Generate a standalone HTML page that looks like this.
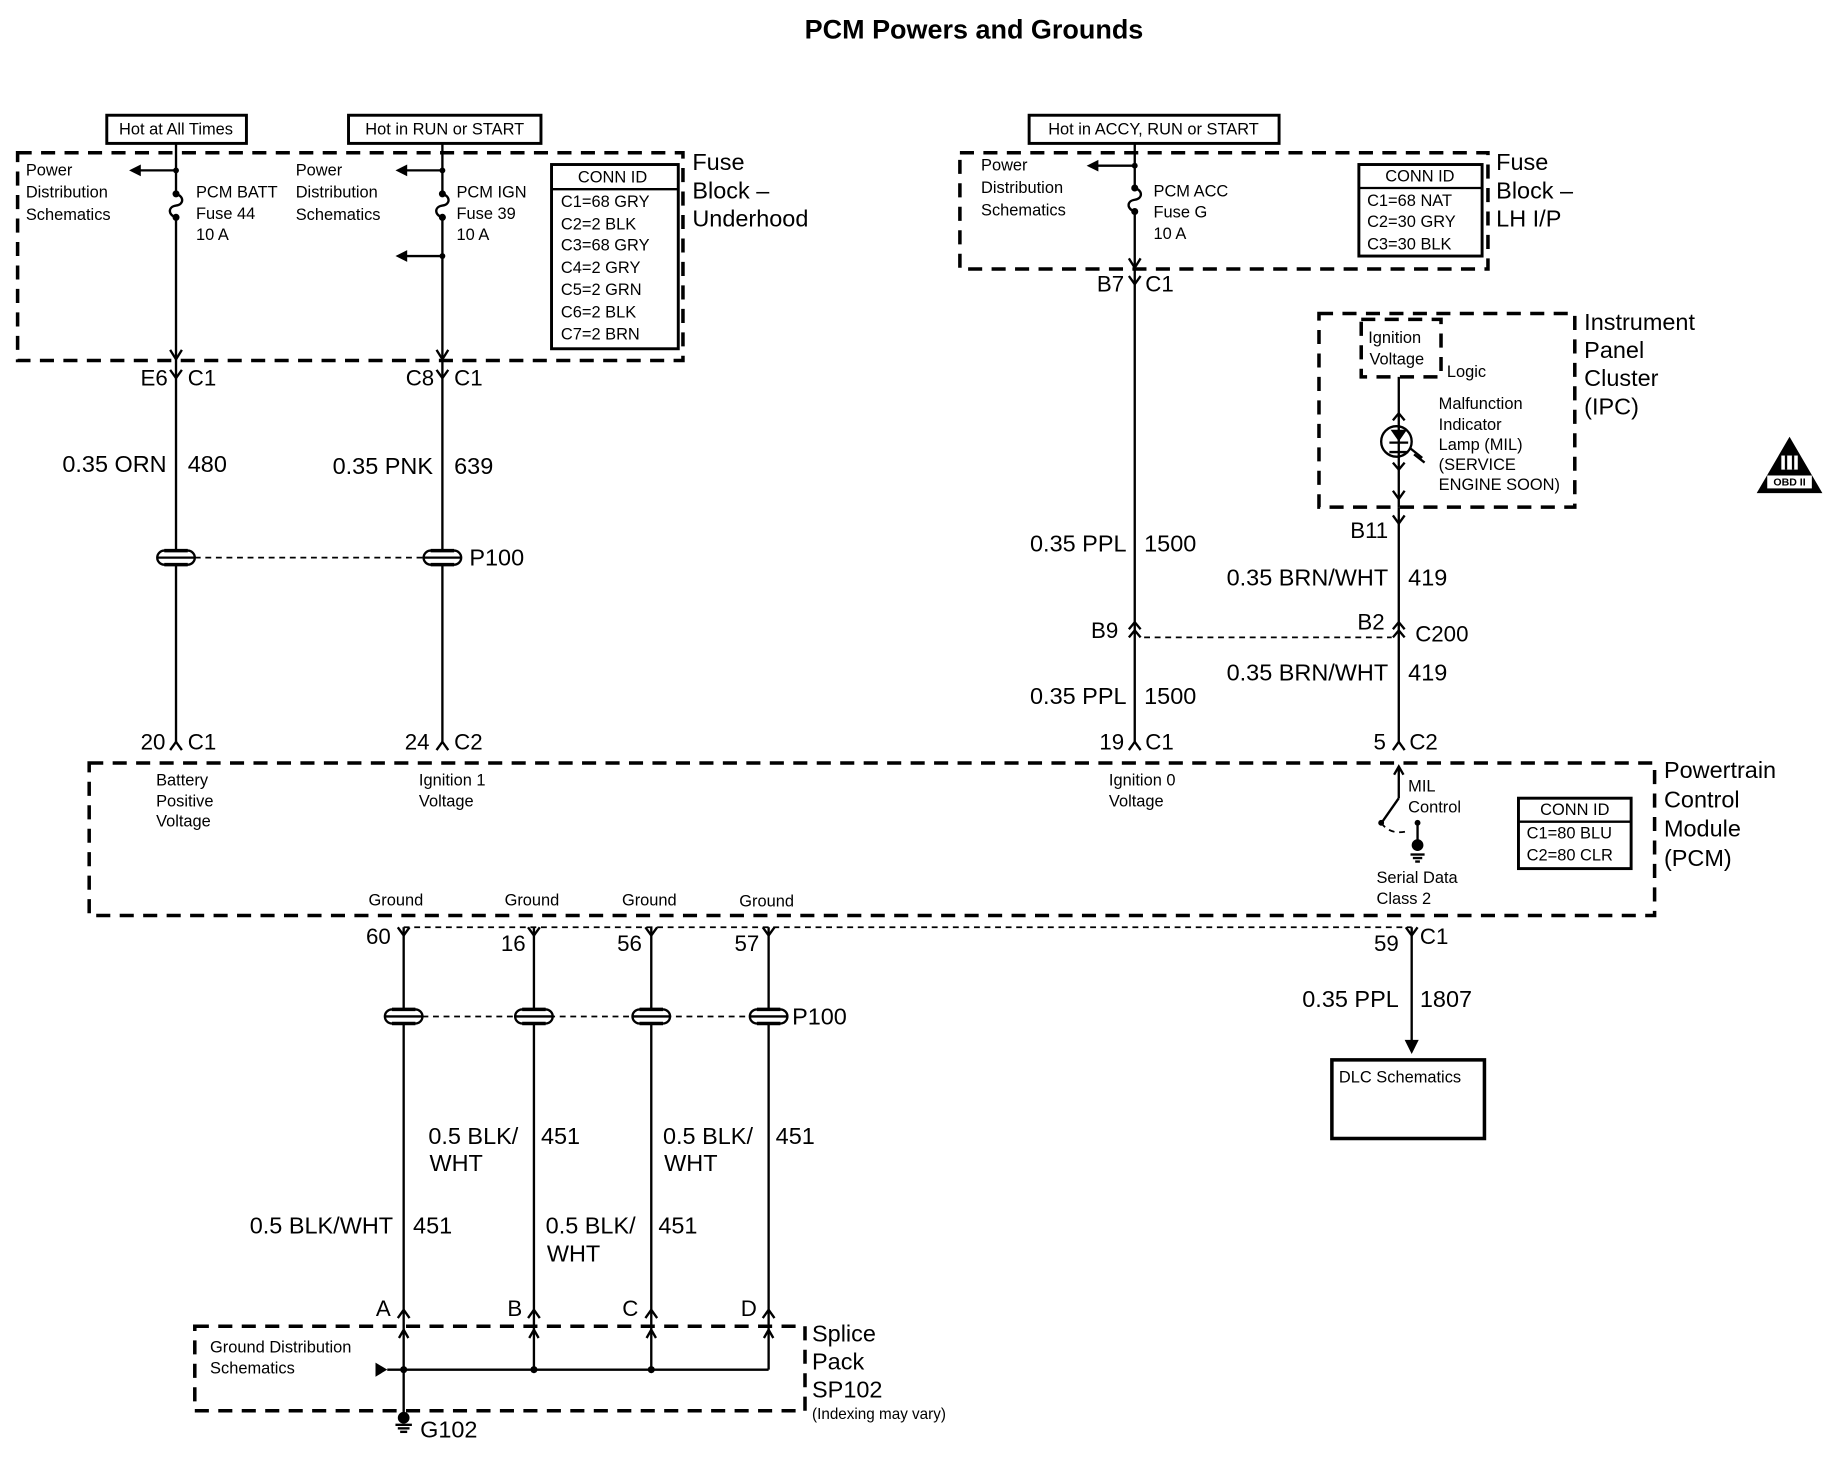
<!DOCTYPE html>
<html><head><meta charset="utf-8"><style>
html,body{margin:0;padding:0;background:#fff}
svg{display:block}
text{font-family:"Liberation Sans",sans-serif;fill:#000;dominant-baseline:central}
.s{font-size:14px}.m{font-size:19px}.l{font-size:20px}
.w{stroke:#000;stroke-width:2;fill:none}
.d{stroke:#000;stroke-width:3;fill:none;stroke-dasharray:12 8}
.dt{stroke:#000;stroke-width:1.5;fill:none;stroke-dasharray:5 4}
</style></head><body>
<svg width="1840" height="1472" viewBox="0 0 1568 1254" xmlns="http://www.w3.org/2000/svg">
<defs>
<g id="yt"><path d="M-5,-7 L0,0 L5,-7" class="w"/></g>
<g id="yb"><path d="M-5,7 L0,0 L5,7" class="w"/></g>
<g id="p"><rect x="-16" y="-6" width="32" height="12" rx="6" fill="#fff" stroke="#000" stroke-width="2"/><line x1="-16" y1="0" x2="16" y2="0" stroke="#000" stroke-width="2"/><line x1="-10" y1="-6" x2="10" y2="-6" stroke="#000" stroke-width="3"/><line x1="-10" y1="6" x2="10" y2="6" stroke="#000" stroke-width="3"/></g>
<g id="fuse"><rect x="-3" y="-1" width="6" height="22" fill="#fff"/><circle cx="0" cy="0" r="3"/><circle cx="0" cy="20" r="3"/><path d="M0,0 C7,2 7,9 0,10 C-7,11 -7,18 0,20" stroke="#000" stroke-width="2" fill="none"/></g>
<g id="la"><polygon points="0,0 10,-5 10,5"/></g>
</defs>
<text x="830" y="25" font-size="23" text-anchor="middle" font-weight="bold">PCM Powers and Grounds</text>

<!-- Left fuse block -->
<rect x="91" y="98" width="119" height="24" fill="none" stroke="#000" stroke-width="2.5"/>
<text x="150" y="110" class="s" text-anchor="middle">Hot at All Times</text>
<rect x="297" y="98" width="164" height="24" fill="none" stroke="#000" stroke-width="2.5"/>
<text x="379" y="110" class="s" text-anchor="middle">Hot in RUN or START</text>
<rect x="15" y="130" width="567" height="177" class="d"/>
<line x1="150" y1="122" x2="150" y2="632" class="w"/>
<line x1="377" y1="122" x2="377" y2="632" class="w"/>
<line x1="150" y1="145" x2="118" y2="145" class="w"/><use href="#la" x="110" y="145"/><circle cx="150" cy="145" r="2.5"/>
<line x1="377" y1="145" x2="345" y2="145" class="w"/><use href="#la" x="337" y="145"/><circle cx="377" cy="145" r="2.5"/>
<line x1="377" y1="218" x2="345" y2="218" class="w"/><use href="#la" x="337" y="218"/><circle cx="377" cy="218" r="2.5"/>
<use href="#fuse" x="150" y="165"/><use href="#fuse" x="377" y="165"/>
<path d="M145,298 L150,306 L155,298" class="w"/><path d="M372,298 L377,306 L382,298" class="w"/>
<text x="22" y="145" class="s">Power</text><text x="22" y="164" class="s">Distribution</text><text x="22" y="183" class="s">Schematics</text>
<text x="167" y="164" class="s">PCM BATT</text><text x="167" y="182" class="s">Fuse 44</text><text x="167" y="200" class="s">10 A</text>
<text x="252" y="145" class="s">Power</text><text x="252" y="164" class="s">Distribution</text><text x="252" y="183" class="s">Schematics</text>
<text x="389" y="164" class="s">PCM IGN</text><text x="389" y="182" class="s">Fuse 39</text><text x="389" y="200" class="s">10 A</text>
<rect x="470" y="140" width="108" height="157" fill="none" stroke="#000" stroke-width="2.5"/>
<line x1="470" y1="161" x2="578" y2="161" stroke="#000" stroke-width="2"/>
<text x="522" y="151" class="s" text-anchor="middle">CONN ID</text>
<text x="478" y="172" class="s">C1=68 GRY</text><text x="478" y="191" class="s">C2=2 BLK</text><text x="478" y="209" class="s">C3=68 GRY</text><text x="478" y="228" class="s">C4=2 GRY</text><text x="478" y="247" class="s">C5=2 GRN</text><text x="478" y="266" class="s">C6=2 BLK</text><text x="478" y="285" class="s">C7=2 BRN</text>
<text x="590" y="138" class="l">Fuse</text><text x="590" y="162" class="l">Block –</text><text x="590" y="186" class="l">Underhood</text>

<use href="#yt" x="150" y="322"/><use href="#yt" x="377" y="322"/>
<text x="143" y="322" class="m" text-anchor="end">E6</text><text x="160" y="322" class="m">C1</text>
<text x="370" y="322" class="m" text-anchor="end">C8</text><text x="387" y="322" class="m">C1</text>
<text x="142" y="395" class="l" text-anchor="end">0.35 ORN</text><text x="160" y="395" class="l">480</text>
<text x="369" y="397" class="l" text-anchor="end">0.35 PNK</text><text x="387" y="397" class="l">639</text>
<line x1="166" y1="475" x2="361" y2="475" class="dt"/>
<use href="#p" x="150" y="475"/><use href="#p" x="377" y="475"/>
<text x="400" y="475" class="l">P100</text>
<use href="#yb" x="150" y="632"/><use href="#yb" x="377" y="632"/>
<text x="141" y="632" class="m" text-anchor="end">20</text><text x="160" y="632" class="m">C1</text>
<text x="366" y="632" class="m" text-anchor="end">24</text><text x="387" y="632" class="m">C2</text>

<!-- Right fuse block -->
<rect x="877" y="98" width="213" height="24" fill="none" stroke="#000" stroke-width="2.5"/>
<text x="983" y="110" class="s" text-anchor="middle">Hot in ACCY, RUN or START</text>
<rect x="818" y="130" width="450" height="99" class="d"/>
<line x1="967" y1="122" x2="967" y2="632" class="w"/>
<line x1="967" y1="141" x2="935" y2="141" class="w"/><use href="#la" x="926" y="141"/><circle cx="967" cy="141" r="2.5"/>
<use href="#fuse" x="967" y="160"/>
<path d="M962,220 L967,228 L972,220" class="w"/>
<text x="836" y="141" class="s">Power</text><text x="836" y="160" class="s">Distribution</text><text x="836" y="179" class="s">Schematics</text>
<text x="983" y="163" class="s">PCM ACC</text><text x="983" y="181" class="s">Fuse G</text><text x="983" y="199" class="s">10 A</text>
<rect x="1158" y="140" width="105" height="78" fill="none" stroke="#000" stroke-width="2.5"/>
<line x1="1158" y1="160" x2="1263" y2="160" stroke="#000" stroke-width="2"/>
<text x="1210" y="150" class="s" text-anchor="middle">CONN ID</text>
<text x="1165" y="171" class="s">C1=68 NAT</text><text x="1165" y="189" class="s">C2=30 GRY</text><text x="1165" y="208" class="s">C3=30 BLK</text>
<text x="1275" y="138" class="l">Fuse</text><text x="1275" y="162" class="l">Block –</text><text x="1275" y="186" class="l">LH I/P</text>
<use href="#yt" x="967" y="242"/>
<text x="958" y="242" class="m" text-anchor="end">B7</text><text x="976" y="242" class="m">C1</text>

<!-- IPC -->
<rect x="1124" y="267" width="218" height="165" class="d"/>
<rect x="1160" y="272" width="68" height="49" class="d" stroke-dasharray="8 6"/>
<text x="1166" y="288" class="s">Ignition</text><text x="1167" y="306" class="s">Voltage</text>
<text x="1233" y="317" class="s">Logic</text>
<line x1="1192" y1="321" x2="1192" y2="432" class="w"/>
<path d="M1187,358 L1192,352 L1197,358" class="w"/>
<circle cx="1190" cy="376" r="13" fill="#fff" stroke="#000" stroke-width="2"/>
<line x1="1192" y1="362" x2="1192" y2="390" class="w"/>
<polygon points="1185,366 1199,366 1192,376"/><line x1="1184" y1="377" x2="1200" y2="377" class="w"/><line x1="1184" y1="385" x2="1200" y2="385" class="w"/>
<path d="M1202,382 L1212,390 M1205,387 L1214,394" class="w" stroke-width="1"/>
<path d="M1187,394 L1192,400 L1197,394" class="w"/>
<path d="M1187,418 L1192,425 L1197,418" class="w"/>
<text x="1226" y="344" class="s">Malfunction</text><text x="1226" y="362" class="s">Indicator</text><text x="1226" y="379" class="s">Lamp (MIL)</text><text x="1226" y="396" class="s">(SERVICE</text><text x="1226" y="413" class="s">ENGINE SOON)</text>
<text x="1350" y="274" class="l">Instrument</text><text x="1350" y="298" class="l">Panel</text><text x="1350" y="322" class="l">Cluster</text><text x="1350" y="346" class="l">(IPC)</text>
<use href="#yt" x="1192" y="446"/>
<line x1="1192" y1="432" x2="1192" y2="632" class="w"/>
<text x="1183" y="452" class="m" text-anchor="end">B11</text>
<!-- OBD -->
<polygon points="1525,372 1497,420 1553,420"/>
<rect x="1518" y="388" width="14" height="12" fill="#fff"/><line x1="1522" y1="388" x2="1522" y2="400" stroke="#000" stroke-width="2"/><line x1="1528" y1="388" x2="1528" y2="400" stroke="#000" stroke-width="2"/>
<rect x="1506" y="405" width="38" height="11" fill="#fff"/><text x="1525" y="411" font-size="9" text-anchor="middle" font-weight="bold">OBD II</text>

<text x="960" y="463" class="l" text-anchor="end">0.35 PPL</text><text x="975" y="463" class="l">1500</text>
<text x="1183" y="492" class="l" text-anchor="end">0.35 BRN/WHT</text><text x="1200" y="492" class="l">419</text>
<line x1="975" y1="543" x2="1186" y2="543" class="dt"/>
<path d="M962,536 L967,530 L972,536 M962,543 L967,537 L972,543" class="w"/>
<path d="M1187,536 L1192,530 L1197,536 M1187,543 L1192,537 L1197,543" class="w"/>
<text x="953" y="537" class="m" text-anchor="end">B9</text><text x="1180" y="530" class="m" text-anchor="end">B2</text><text x="1206" y="540" class="m">C200</text>
<text x="960" y="593" class="l" text-anchor="end">0.35 PPL</text><text x="975" y="593" class="l">1500</text>
<text x="1183" y="573" class="l" text-anchor="end">0.35 BRN/WHT</text><text x="1200" y="573" class="l">419</text>
<use href="#yb" x="967" y="632"/><use href="#yb" x="1192" y="632"/>
<text x="958" y="632" class="m" text-anchor="end">19</text><text x="976" y="632" class="m">C1</text>
<text x="1181" y="632" class="m" text-anchor="end">5</text><text x="1201" y="632" class="m">C2</text>

<!-- PCM -->
<rect x="76" y="650" width="1334" height="130" class="d"/>
<text x="133" y="665" class="s">Battery</text><text x="133" y="683" class="s">Positive</text><text x="133" y="700" class="s">Voltage</text>
<text x="357" y="665" class="s">Ignition 1</text><text x="357" y="683" class="s">Voltage</text>
<text x="945" y="665" class="s">Ignition 0</text><text x="945" y="683" class="s">Voltage</text>
<line x1="1192" y1="655" x2="1192" y2="680" class="w"/><path d="M1188,660 L1192,653 L1196,660" class="w"/>
<line x1="1192" y1="680" x2="1178" y2="700" class="w"/><circle cx="1177" cy="701" r="2.5"/>
<path d="M1177,701 Q1185,712 1200,708" class="dt" stroke-width="1.2"/>
<circle cx="1208" cy="701" r="2.5"/><line x1="1208" y1="701" x2="1208" y2="718" class="w"/>
<circle cx="1208" cy="720" r="5"/><line x1="1202" y1="728" x2="1214" y2="728" class="w" stroke-width="1.2"/><line x1="1204" y1="731" x2="1212" y2="731" class="w" stroke-width="1.2"/><line x1="1206" y1="734" x2="1210" y2="734" class="w" stroke-width="1.2"/>
<text x="1200" y="670" class="s">MIL</text><text x="1200" y="688" class="s">Control</text>
<text x="1173" y="748" class="s">Serial Data</text><text x="1173" y="766" class="s">Class 2</text>
<rect x="1294" y="680" width="96" height="60" fill="none" stroke="#000" stroke-width="2.5"/>
<line x1="1294" y1="700" x2="1390" y2="700" stroke="#000" stroke-width="2"/>
<text x="1342" y="690" class="s" text-anchor="middle">CONN ID</text>
<text x="1301" y="710" class="s">C1=80 BLU</text><text x="1301" y="729" class="s">C2=80 CLR</text>
<text x="1418" y="656" class="l">Powertrain</text><text x="1418" y="681" class="l">Control</text><text x="1418" y="706" class="l">Module</text><text x="1418" y="731" class="l">(PCM)</text>
<text x="314" y="767" class="s">Ground</text><text x="430" y="767" class="s">Ground</text><text x="530" y="767" class="s">Ground</text><text x="630" y="768" class="s">Ground</text>

<!-- grounds -->
<line x1="344" y1="790" x2="1203" y2="790" class="dt" stroke-width="1.2"/>
<g class="w">
<line x1="344" y1="790" x2="344" y2="1167"/><line x1="455" y1="790" x2="455" y2="1167"/><line x1="555" y1="790" x2="555" y2="1167"/><line x1="655" y1="790" x2="655" y2="1167"/>
<line x1="1203" y1="790" x2="1203" y2="890"/>
</g>
<use href="#yt" x="344" y="797"/><use href="#yt" x="455" y="797"/><use href="#yt" x="555" y="797"/><use href="#yt" x="655" y="797"/><use href="#yt" x="1203" y="797"/>
<text x="333" y="798" class="m" text-anchor="end">60</text><text x="448" y="804" class="m" text-anchor="end">16</text><text x="547" y="804" class="m" text-anchor="end">56</text><text x="647" y="804" class="m" text-anchor="end">57</text>
<text x="1192" y="804" class="m" text-anchor="end">59</text><text x="1210" y="798" class="m">C1</text>
<polygon points="1197,886 1209,886 1203,898"/>
<text x="1192" y="851" class="l" text-anchor="end">0.35 PPL</text><text x="1210" y="851" class="l">1807</text>
<rect x="1135" y="903" width="130" height="67" fill="none" stroke="#000" stroke-width="3"/>
<text x="1141" y="918" class="s">DLC Schematics</text>
<line x1="360" y1="866" x2="639" y2="866" class="dt"/>
<use href="#p" x="344" y="866"/><use href="#p" x="455" y="866"/><use href="#p" x="555" y="866"/><use href="#p" x="655" y="866"/>
<text x="675" y="866" class="l">P100</text>
<text x="365" y="968" class="l">0.5 BLK/</text><text x="366" y="991" class="l">WHT</text><text x="461" y="968" class="l">451</text>
<text x="565" y="968" class="l">0.5 BLK/</text><text x="566" y="991" class="l">WHT</text><text x="661" y="968" class="l">451</text>
<text x="335" y="1044" class="l" text-anchor="end">0.5 BLK/WHT</text><text x="352" y="1044" class="l">451</text>
<text x="465" y="1044" class="l">0.5 BLK/</text><text x="466" y="1068" class="l">WHT</text><text x="561" y="1044" class="l">451</text>
<use href="#yb" x="344" y="1116"/><use href="#yb" x="455" y="1116"/><use href="#yb" x="555" y="1116"/><use href="#yb" x="655" y="1116"/>
<text x="333" y="1115" class="m" text-anchor="end">A</text><text x="445" y="1115" class="m" text-anchor="end">B</text><text x="544" y="1115" class="m" text-anchor="end">C</text><text x="645" y="1115" class="m" text-anchor="end">D</text>
<rect x="166" y="1130" width="520" height="72" class="d"/>
<path d="M340,1140 L344,1133 L348,1140 M451,1140 L455,1133 L459,1140 M551,1140 L555,1133 L559,1140 M651,1140 L655,1133 L659,1140" class="w" stroke-width="1.5"/>
<line x1="330" y1="1167" x2="655" y2="1167" class="w" stroke-width="2.5"/>
<polygon points="320,1161 320,1173 330,1167"/>
<circle cx="344" cy="1167" r="3"/><circle cx="455" cy="1167" r="3"/><circle cx="555" cy="1167" r="3"/>
<line x1="344" y1="1167" x2="344" y2="1210" class="w"/>
<circle cx="344" cy="1208" r="5"/><line x1="337" y1="1214" x2="351" y2="1214" class="w" stroke-width="1.2"/><line x1="339" y1="1217" x2="349" y2="1217" class="w" stroke-width="1.2"/><line x1="341" y1="1220" x2="347" y2="1220" class="w" stroke-width="1.2"/>
<text x="358" y="1218" class="l">G102</text>
<text x="179" y="1148" class="s">Ground Distribution</text><text x="179" y="1166" class="s">Schematics</text>
<text x="692" y="1136" class="l">Splice</text><text x="692" y="1160" class="l">Pack</text><text x="692" y="1184" class="l">SP102</text>
<text x="692" y="1205" font-size="13">(Indexing may vary)</text>
</svg>
</body></html>
